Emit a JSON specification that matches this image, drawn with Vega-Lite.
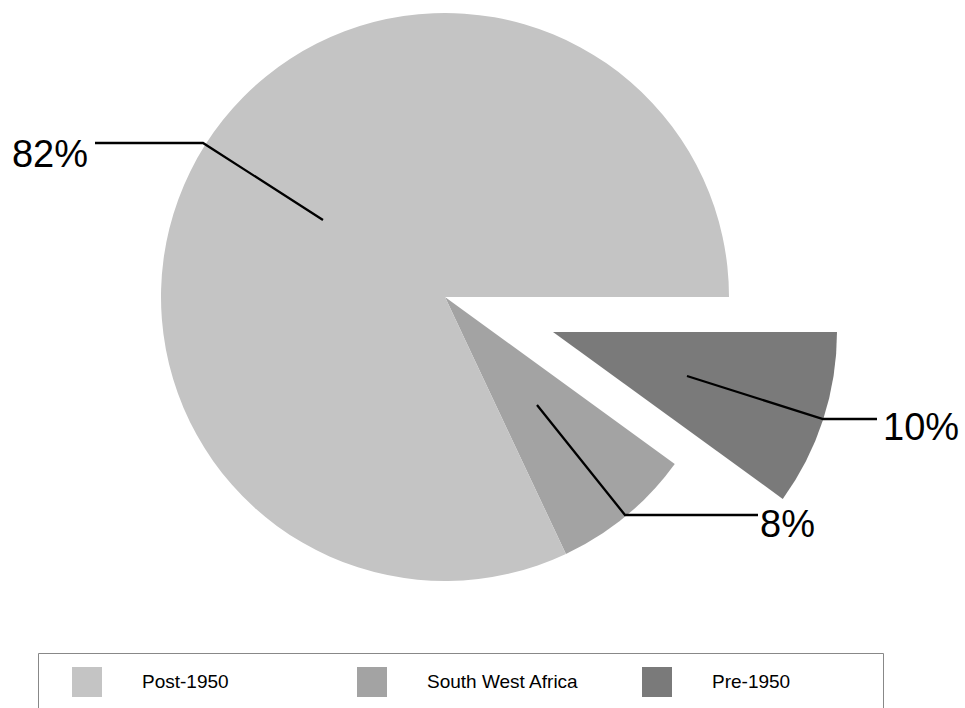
{
  "$schema": "https://vega.github.io/schema/vega-lite/v6.json",
  "width": 890,
  "height": 594,
  "autosize": {"type": "none"},
  "padding": {"left": 0, "top": 0, "right": 75, "bottom": 114},
  "background": "white",
  "config": {
    "view": {"stroke": null},
    "font": "Liberation Sans",
    "legend": {
      "orient": "none",
      "legendX": 38,
      "legendY": 653,
      "direction": "horizontal",
      "columns": 3,
      "gridAlign": "all",
      "columnPadding": 43,
      "symbolType": "square",
      "symbolSize": 900,
      "symbolStrokeWidth": 0,
      "symbolOpacity": 1,
      "symbolOffset": 20,
      "labelOffset": 40,
      "labelFontSize": 19,
      "labelFont": "Liberation Sans",
      "labelColor": "black",
      "labelLimit": 300,
      "strokeColor": "#888888",
      "padding": 14
    }
  },
  "datasets": {
    "slices": [
      {"group": "Pre-1950", "share": 10, "rank": 1},
      {"group": "South West Africa", "share": 8, "rank": 2},
      {"group": "Post-1950", "share": 82, "rank": 3}
    ],
    "leaders": [
      {"label": "82%", "seq": 1, "u": -1.2324, "v": 0.5423},
      {"label": "82%", "seq": 2, "u": -0.8521, "v": 0.5423},
      {"label": "82%", "seq": 3, "u": -0.4296, "v": 0.2711},
      {"label": "10%", "seq": 1, "u": 0.8521, "v": -0.2782},
      {"label": "10%", "seq": 2, "u": 1.3310, "v": -0.4296},
      {"label": "10%", "seq": 3, "u": 1.5211, "v": -0.4296},
      {"label": "8%", "seq": 1, "u": 0.3239, "v": -0.3803},
      {"label": "8%", "seq": 2, "u": 0.6338, "v": -0.7676},
      {"label": "8%", "seq": 3, "u": 1.1021, "v": -0.7676}
    ],
    "labels": [
      {"label": "82%", "side": "left", "u": -1.2570, "v": 0.4577},
      {"label": "10%", "side": "right", "u": 1.5423, "v": -0.5035},
      {"label": "8%", "side": "right", "u": 1.1092, "v": -0.8451}
    ]
  },
  "layer": [
    {
      "data": {"name": "slices"},
      "mark": {"type": "arc", "outerRadius": 284},
      "encoding": {
        "theta": {"field": "share", "type": "quantitative", "stack": true, "scale": {"range": [1.5707963, 7.8539816]}},
        "order": {"field": "rank", "type": "ordinal"},
        "color": {
          "field": "group",
          "type": "nominal",
          "scale": {"domain": ["Post-1950", "South West Africa", "Pre-1950"], "range": ["#c4c4c4", "#a3a3a3", "#7a7a7a"]},
          "legend": {"title": "\u00a0", "titleOrient": "right", "titlePadding": 79}
        },
        "opacity": {"condition": {"test": "datum.group === 'Pre-1950'", "value": 0}, "value": 1}
      }
    },
    {
      "data": {"name": "slices"},
      "mark": {"type": "arc", "outerRadius": 284, "xOffset": 108, "yOffset": 35},
      "encoding": {
        "theta": {"field": "share", "type": "quantitative", "stack": true},
        "order": {"field": "rank", "type": "ordinal"},
        "color": {"field": "group", "type": "nominal"},
        "opacity": {"condition": {"test": "datum.group === 'Pre-1950'", "value": 1}, "value": 0}
      }
    },
    {
      "data": {"name": "leaders"},
      "mark": {"type": "line", "stroke": "black", "strokeWidth": 2.3},
      "encoding": {
        "x": {"field": "u", "type": "quantitative", "scale": {"domain": [-1.5669, 1.5669], "nice": false, "zero": false}, "axis": null},
        "y": {"field": "v", "type": "quantitative", "scale": {"domain": [-1.04577, 1.04577], "nice": false, "zero": false}, "axis": null},
        "detail": {"field": "label", "type": "nominal"},
        "order": {"field": "seq", "type": "quantitative"}
      }
    },
    {
      "data": {"name": "labels"},
      "transform": [{"filter": "datum.side === 'left'"}],
      "mark": {"type": "text", "align": "right", "baseline": "alphabetic", "fontSize": 38, "font": "Liberation Sans", "color": "black"},
      "encoding": {
        "x": {"field": "u", "type": "quantitative"},
        "y": {"field": "v", "type": "quantitative"},
        "text": {"field": "label", "type": "nominal"}
      }
    },
    {
      "data": {"name": "labels"},
      "transform": [{"filter": "datum.side === 'right'"}],
      "mark": {"type": "text", "align": "left", "baseline": "alphabetic", "fontSize": 38, "font": "Liberation Sans", "color": "black"},
      "encoding": {
        "x": {"field": "u", "type": "quantitative"},
        "y": {"field": "v", "type": "quantitative"},
        "text": {"field": "label", "type": "nominal"}
      }
    }
  ]
}
